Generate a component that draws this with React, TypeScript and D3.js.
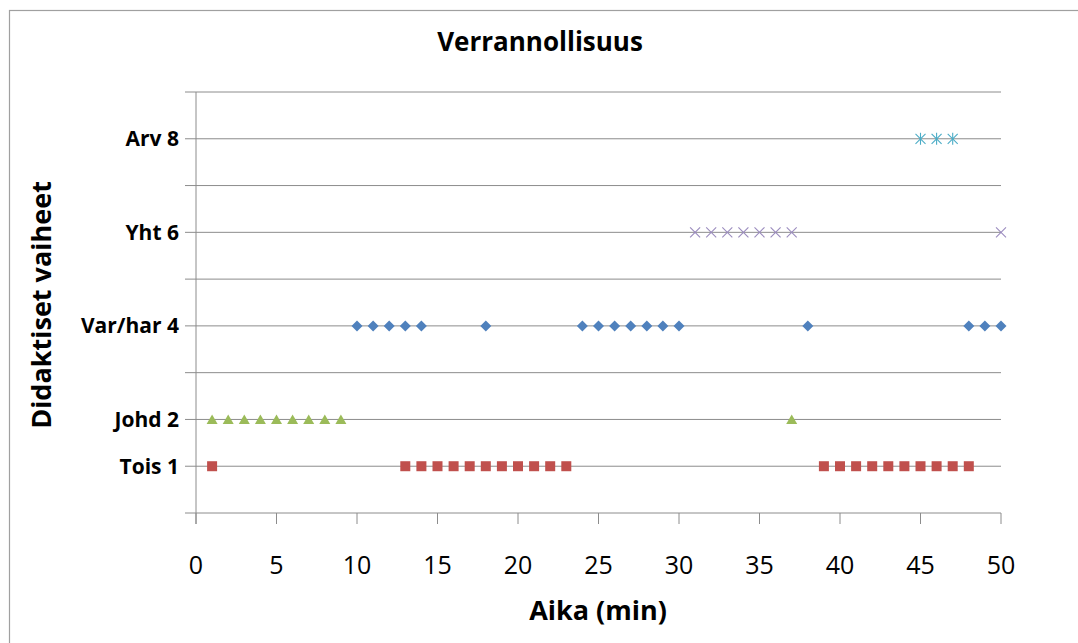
import React from "react";
import * as d3 from "d3";

// Minutes at which each didactic phase was observed
const toisMinutes = [1, 13, 14, 15, 16, 17, 18, 19, 20, 21, 22, 23, 39, 40, 41, 42, 43, 44, 45, 46, 47, 48];
const johdMinutes = [1, 2, 3, 4, 5, 6, 7, 8, 9, 37];
const varHarMinutes = [10, 11, 12, 13, 14, 18, 24, 25, 26, 27, 28, 29, 30, 38, 48, 49, 50];
const yhtMinutes = [31, 32, 33, 34, 35, 36, 37, 50];
const arvMinutes = [45, 46, 47];

const phaseLevels = [1, 2, 4, 6, 8];
const phaseLabels = ["Tois 1", "Johd 2", "Var/har 4", "Yht 6", "Arv 8"];
const xTicks = [0, 5, 10, 15, 20, 25, 30, 35, 40, 45, 50];
const yGrid = [0, 1, 2, 3, 4, 5, 6, 7, 8, 9];

const W = 1078;
const H = 643;
const FONT = "'Open Sans', 'Liberation Sans', sans-serif";

const x = d3.scaleLinear().domain([0, 50]).range([196, 1001]);
const y = d3.scaleLinear().domain([0, 9]).range([513, 92]);

type Series = { name: string; level: number; minutes: number[]; color: string; shape: string };

const series: Series[] = [
  { name: "Tois", level: 1, minutes: toisMinutes, color: "#C0504D", shape: "square" },
  { name: "Johd", level: 2, minutes: johdMinutes, color: "#9BBB59", shape: "triangle" },
  { name: "Var/har", level: 4, minutes: varHarMinutes, color: "#4F81BD", shape: "diamond" },
  { name: "Yht", level: 6, minutes: yhtMinutes, color: "#9A8BBE", shape: "x" },
  { name: "Arv", level: 8, minutes: arvMinutes, color: "#4BACC6", shape: "star" },
];

function Marker({ cx, cy, color, shape }: { cx: number; cy: number; color: string; shape: string }) {
  if (shape === "square") {
    return <rect x={cx - 5} y={cy - 5} width={10} height={10} fill={color} />;
  }
  if (shape === "triangle") {
    const p = d3.path();
    p.moveTo(cx, cy - 5);
    p.lineTo(cx + 5.5, cy + 4.5);
    p.lineTo(cx - 5.5, cy + 4.5);
    p.closePath();
    return <path d={p.toString()} fill={color} />;
  }
  if (shape === "diamond") {
    const p = d3.path();
    p.moveTo(cx, cy - 5.5);
    p.lineTo(cx + 5.5, cy);
    p.lineTo(cx, cy + 5.5);
    p.lineTo(cx - 5.5, cy);
    p.closePath();
    return <path d={p.toString()} fill={color} />;
  }
  if (shape === "x") {
    return (
      <g stroke={color} strokeWidth={1.1}>
        <line x1={cx - 5} y1={cy - 5} x2={cx + 5} y2={cy + 5} />
        <line x1={cx - 5} y1={cy + 5} x2={cx + 5} y2={cy - 5} />
      </g>
    );
  }
  return (
    <g stroke={color} strokeWidth={1.1}>
      <line x1={cx - 5} y1={cy - 5} x2={cx + 5} y2={cy + 5} />
      <line x1={cx - 5} y1={cy + 5} x2={cx + 5} y2={cy - 5} />
      <line x1={cx} y1={cy - 6} x2={cx} y2={cy + 6} />
    </g>
  );
}

export default function App() {
  const [x0, x1] = x.range();
  return (
    <svg
      width={W}
      height={H}
      style={{ position: "absolute", left: 0, top: 0, background: "#fff" }}
      fontFamily={FONT}
    >
      <rect x={9.5} y={10.5} width={W} height={H} fill="#fff" stroke="#A0A0A0" strokeWidth={1.2} />

      <text x={540} y={51} textAnchor="middle" fontSize={26} fontWeight="bold" fill="#000">
        Verrannollisuus
      </text>

      {/* horizontal gridlines with outside tick stubs */}
      {yGrid.map((v) => (
        <line key={"g" + v} x1={185} x2={x1} y1={y(v)} y2={y(v)} stroke="#8C8C8C" strokeWidth={1} />
      ))}

      {/* y axis line */}
      <line x1={x0} x2={x0} y1={y(9)} y2={y(0) + 11} stroke="#8C8C8C" strokeWidth={1} />

      {/* x ticks */}
      {xTicks.map((t) => (
        <g key={"xt" + t}>
          <line x1={x(t)} x2={x(t)} y1={y(0)} y2={y(0) + 11} stroke="#8C8C8C" strokeWidth={1} />
          <text x={x(t)} y={574} textAnchor="middle" fontSize={25} fill="#000">
            {t}
          </text>
        </g>
      ))}

      {/* y category labels */}
      {phaseLevels.map((lv, i) => (
        <text
          key={"yl" + lv}
          x={179}
          y={y(lv)}
          dy="0.36em"
          textAnchor="end"
          fontSize={21}
          fontWeight="bold"
          fill="#000"
        >
          {phaseLabels[i]}
        </text>
      ))}

      {/* markers */}
      {series.map((s) =>
        s.minutes.map((m, i) => (
          <Marker key={s.name + i} cx={x(m)} cy={y(s.level)} color={s.color} shape={s.shape} />
        ))
      )}

      <text x={598} y={620} textAnchor="middle" fontSize={27} fontWeight="bold" fill="#000">
        Aika (min)
      </text>
      <text
        transform={`translate(51,305) rotate(-90)`}
        textAnchor="middle"
        fontSize={27}
        fontWeight="bold"
        fill="#000"
      >
        Didaktiset vaiheet
      </text>
    </svg>
  );
}
